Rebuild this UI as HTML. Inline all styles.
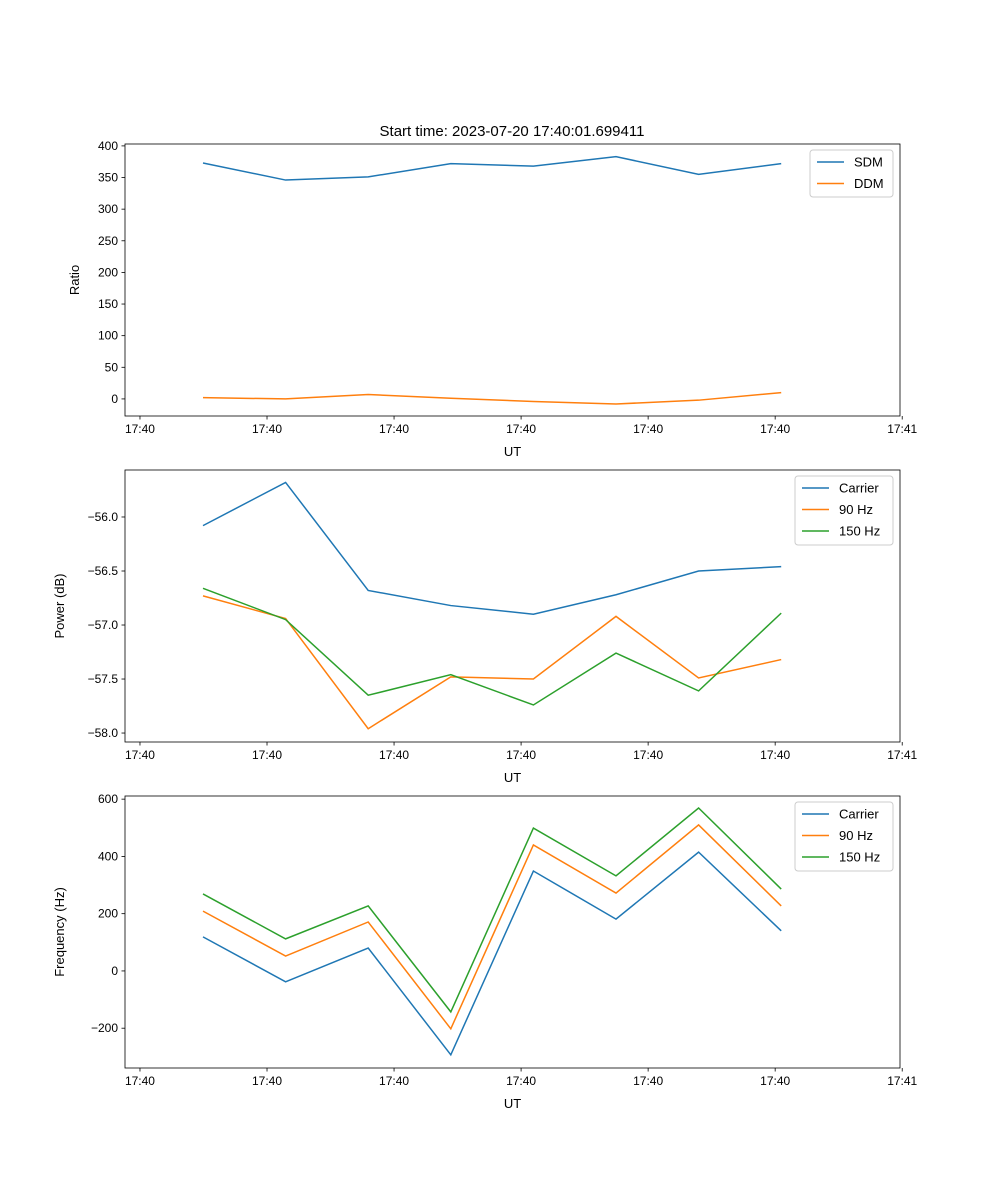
<!DOCTYPE html>
<html><head><meta charset="utf-8"><style>
body{margin:0;background:#fff;}
svg{display:block;font-family:"Liberation Sans","DejaVu Sans",sans-serif;}
</style></head><body>
<svg id="fig" width="1000" height="1200" viewBox="0 0 1000 1200"></svg>
<script>
const sampleIdx=[0,1,2,3,4,5,6,7];
const xTickIdx=[-0.763,0.775,2.313,3.851,5.389,6.927,8.465];
const xTickLabels=["17:40","17:40","17:40","17:40","17:40","17:40","17:41"];
const sdm=[373,346,351,372,368,383,355,372];
const ddm=[2,0,7,1,-4,-8,-2,10];
const pwrCarrier=[-56.08,-55.68,-56.68,-56.82,-56.90,-56.72,-56.50,-56.46];
const pwr90=[-56.73,-56.94,-57.96,-57.48,-57.50,-56.92,-57.49,-57.32];
const pwr150=[-56.66,-56.95,-57.65,-57.46,-57.74,-57.26,-57.61,-56.89];
const frqCarrier=[119,-38,80,-293,349,181,415,140];
const frq90=[209,52,171,-202,440,272,510,227];
const frq150=[269,112,227,-143,499,332,569,286];
const ratioTicks=[0,50,100,150,200,250,300,350,400];
const powerTicks=[-58.0,-57.5,-57.0,-56.5,-56.0];
const freqTicks=[-200,0,200,400,600];

const NS="http://www.w3.org/2000/svg";
const svg=document.getElementById('fig');
function mk(tag,attrs,parent){const e=document.createElementNS(NS,tag);for(const k in attrs)e.setAttribute(k,attrs[k]);(parent||svg).appendChild(e);return e;}
const L=125,R=900;
const xs=i=>203+82.6*i;
const colors=["#1f77b4","#ff7f0e","#2ca02c"];

function panel(name,top,bot,ymin,ymax,yticks,fmt,ylabel,series,names,legendX,legendW){
  const g=mk('g',{});
  
  
  const ys=v=>bot-(v-ymin)/(ymax-ymin)*(bot-top);
  series.forEach((s,k)=>{
    const p=mk('polyline',{points:s.map((v,i)=>xs(sampleIdx[i])+','+ys(v)).join(' '),fill:'none',stroke:colors[k],'stroke-width':1.5},g);
    
    
  });
  const fr=mk('rect',{x:L,y:top,width:R-L,height:bot-top,fill:'none',stroke:'#000','stroke-width':0.8},g);
  
  
  xTickIdx.forEach((t,j)=>{
    const x=xs(t);
    mk('line',{x1:x,x2:x,y1:bot,y2:bot+3.5,stroke:'#000','stroke-width':0.8},g);
    const tx=mk('text',{x:x,y:bot+17,'font-size':12,'text-anchor':'middle'},g);
    tx.textContent=xTickLabels[j];
    
    
  });
  yticks.forEach(t=>{
    const y=ys(t);
    mk('line',{x1:L-3.5,x2:L,y1:y,y2:y,stroke:'#000','stroke-width':0.8},g);
    const tx=mk('text',{x:L-7,y:y+4,'font-size':12,'text-anchor':'end'},g);
    tx.textContent=fmt(t);
    
    
  });
  const xl=mk('text',{x:(L+R)/2,y:bot+40,'font-size':13,'text-anchor':'middle'},g);
  xl.textContent='UT';
  
  
  const yl=mk('text',{x:0,y:0,'font-size':13,'text-anchor':'middle',transform:`translate(${L-(name==='ratio'?46:61)},${(top+bot)/2}) rotate(-90)`},g);
  yl.textContent=ylabel;
  
  
  const lg=mk('g',{},g);
  
  
  const lh=names.length*22+3;
  mk('rect',{x:legendX,y:top+6,width:legendW,height:lh,rx:3,fill:'#fff',stroke:'#ccc','stroke-width':1},lg);
  names.forEach((n,k)=>{
    const y=top+18+k*21.5;
    mk('line',{x1:legendX+7,x2:legendX+34,y1:y,y2:y,stroke:colors[k],'stroke-width':1.5},lg);
    const t=mk('text',{x:legendX+44,y:y+4.5,'font-size':13},lg);
    t.textContent=n;
    
    
  });
}
const title=mk('text',{x:512,y:136,'font-size':15,'text-anchor':'middle'});
title.textContent='Start time: 2023-07-20 17:40:01.699411';


panel('ratio',144,416,-27,403,ratioTicks,v=>String(v),'Ratio',[sdm,ddm],['SDM','DDM'],810,83);
panel('power',470,742,-58.083,-55.565,powerTicks,v=>v.toFixed(1).replace('-','\u2212'),'Power (dB)',[pwrCarrier,pwr90,pwr150],['Carrier','90 Hz','150 Hz'],795,98);
panel('frequency',796,1068,-339,611,freqTicks,v=>String(v).replace('-','\u2212'),'Frequency (Hz)',[frqCarrier,frq90,frq150],['Carrier','90 Hz','150 Hz'],795,98);
</script>
</body></html>
